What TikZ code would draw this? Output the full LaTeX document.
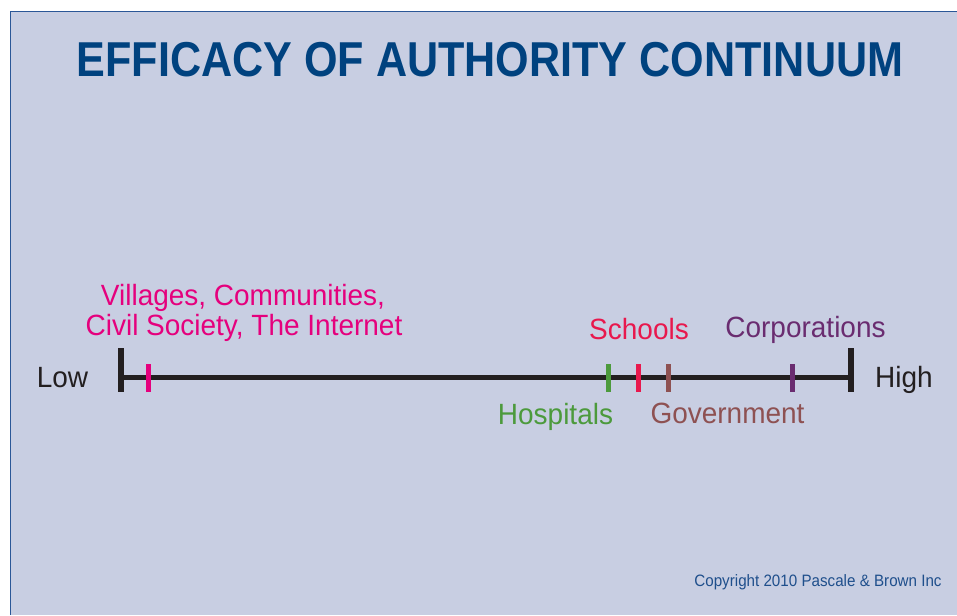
\documentclass[tikz,border=0pt]{standalone}
\usepackage{fontspec}
\setmainfont{Liberation Sans}[FakeStretch=0.92]
\newfontfamily\labelfont{Liberation Sans}[FakeStretch=0.955]
\newfontfamily\titlefont{Liberation Sans Bold}[FakeStretch=0.88]
\definecolor{bg}{HTML}{C8CEE2}
\definecolor{frame}{HTML}{2B5797}
\definecolor{titleblue}{HTML}{00427F}
\definecolor{ink}{HTML}{231F20}
\definecolor{cpink}{HTML}{E5007D}
\definecolor{cgreen}{HTML}{4C9A3C}
\definecolor{cred}{HTML}{E8184D}
\definecolor{cbrown}{HTML}{8E5152}
\definecolor{cpurple}{HTML}{6A2C70}
\definecolor{cblue}{HTML}{1F4F8C}
\begin{document}
\begin{tikzpicture}[x=1pt,y=-1pt,
  lbl/.style={inner sep=0pt,anchor=base,font=\labelfont\fontsize{29.3}{30}\selectfont},
  axis/.style={line width=5pt,ink},
  endtick/.style={line width=5.5pt,ink},
  mtick/.style={line width=5pt}]
\useasboundingbox (0,0) rectangle (957,615);
\fill[white] (0,0) rectangle (957,615);
\fill[bg] (10.5,11.5) rectangle (957,615);
\draw[frame,line width=1.5pt] (10.5,615) -- (10.5,11.5) -- (957,11.5);
\node[inner sep=0pt,anchor=base,text=titleblue,font=\titlefont\fontsize{49}{50}\selectfont] (title) at (490,77) {EFFICACY OF AUTHORITY CONTINUUM};
% axis
\coordinate (L) at (121,377);
\coordinate (R) at (851,377);
\draw[axis] (L) -- (R);
\draw[endtick] (121,348) -- (121,392);
\draw[endtick] (851,348) -- (851,392);
\draw[mtick,cpink] (148,364) -- (148,392);
\draw[mtick,cgreen] (608,364) -- (608,392);
\draw[mtick,cred] (638,364) -- (638,392);
\draw[mtick,cbrown] (668,364) -- (668,392);
\draw[mtick,cpurple] (792,364) -- (792,392);
% labels
\node[lbl,text=ink] (low) at (62.5,387) {Low};
\node[lbl,text=ink] (high) at (904,387) {High};
\node[lbl,text=cpink] (vil1) at (243,305) {Villages, Communities,};
\node[lbl,text=cpink] (vil2) at (244,335) {Civil Society, The Internet};
\node[lbl,text=cred] (schools) at (639,339) {Schools};
\node[lbl,text=cpurple] (corp) at (805.5,337) {Corporations};
\node[lbl,text=cgreen] (hosp) at (555.5,424) {Hospitals};
\node[lbl,text=cbrown] (gov) at (727.5,423) {Government};
\node[inner sep=0pt,anchor=base,text=cblue,font=\fontsize{16.5}{18}\selectfont] (copy) at (818,586) {Copyright 2010 Pascale \& Brown Inc};
\end{tikzpicture}
\end{document}
